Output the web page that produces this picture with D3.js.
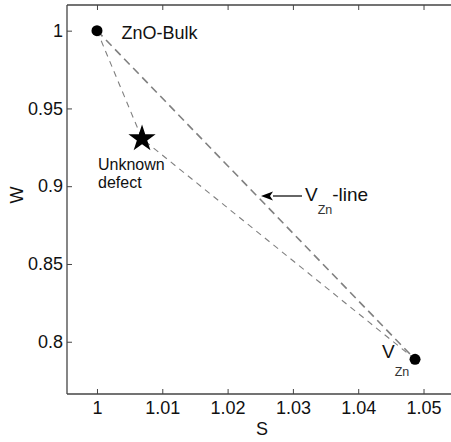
<!DOCTYPE html>
<html><head><meta charset="utf-8">
<script src="https://cdn.jsdelivr.net/npm/d3@7"></script>
<style>
body{margin:0;background:#fff;}
svg{display:block;font-family:Arial,"Liberation Sans",sans-serif;}
</style></head><body>
<svg id="c" width="451" height="442"></svg>
<script>
const xTicks=[1,1.01,1.02,1.03,1.04,1.05];
const yTicks=[0.8,0.85,0.9,0.95,1];
const pointNames=["ZnO-Bulk","Unknown defect","VZn"];
const pointS=[1,1.0069,1.0487];
const pointW=[1,0.9305,0.7887];
const lineA=[0,2];      // V_Zn line: bulk -> VZn
const lineB=[0,1,2];    // bulk -> unknown -> VZn

const svg=d3.select("#c");
const L=67,R=452,T=5,B=394;
const x=d3.scaleLinear().domain([0.99541,1.05436]).range([L,R]);
const y=d3.scaleLinear().domain([0.7664,1.0165]).range([B,T]);
const axCol="#444";
const FF="Arial,'Liberation Sans',sans-serif";

const gx=svg.append("g").attr("transform",`translate(0,${B})`)
  .call(d3.axisBottom(x).tickValues(xTicks).tickSize(-5).tickPadding(7.5).tickFormat(d3.format("~g")));
const gxt=svg.append("g").attr("transform",`translate(0,${T})`)
  .call(d3.axisTop(x).tickValues(xTicks).tickSize(-5).tickFormat(""));
const gy=svg.append("g").attr("transform",`translate(${L},0)`)
  .call(d3.axisLeft(y).tickValues(yTicks).tickSize(-5).tickPadding(4).tickFormat(d3.format("~g")));
[gx,gxt,gy].forEach(g=>{
  g.selectAll(".domain").attr("stroke",axCol).attr("stroke-width",1.3);
  g.selectAll(".tick line").attr("stroke",axCol).attr("stroke-width",1);
  g.selectAll("text").attr("fill","#111").style("font-size","18px").style("font-family",FF);
});
gx.selectAll(".domain").attr("d",`M${L},0H${R}`);
gxt.selectAll(".domain").attr("d",`M${L},0H${R}`);
gy.selectAll(".domain").attr("d",`M0,${T}V${B}`);

svg.append("text").attr("x",262).attr("y",435).attr("text-anchor","middle")
  .style("font-size","18px").attr("fill","#111").text("S");
svg.append("text").attr("transform","translate(23,195) rotate(-90)").attr("text-anchor","middle")
  .style("font-size","18px").attr("fill","#111").text("W");

const line=d3.line().x(i=>x(pointS[i])).y(i=>y(pointW[i]));
svg.append("path").attr("d",line(lineA)).attr("fill","none").attr("stroke","#808080")
  .attr("stroke-width",1.6).attr("stroke-dasharray","8,5");
svg.append("path").attr("d",line(lineB)).attr("fill","none").attr("stroke","#808080")
  .attr("stroke-width",1.1).attr("stroke-dasharray","6,5");

// markers
[0,2].forEach(i=>{
  svg.append("circle").attr("cx",x(pointS[i])).attr("cy",y(pointW[i])).attr("r",5.5).attr("fill","#000");
});
svg.append("path").attr("d",d3.symbol(d3.symbolStar,230)())
  .attr("transform",`translate(${x(pointS[1])},${y(pointW[1])})`).attr("fill","#000");

// labels
svg.append("text").attr("x",121.5).attr("y",39)
  .style("font-size","18px").attr("fill","#111").text("ZnO-Bulk");
const ud=svg.append("text").attr("x",98).attr("y",170)
  .style("font-size","16px").attr("fill","#111");
ud.append("tspan").text("Unknown");
ud.append("tspan").attr("x",98).attr("dy",18).text("defect");

const vz=svg.append("text").attr("x",382).attr("y",358)
  .style("font-size","19px").attr("fill","#111");
vz.append("tspan").text("V");
vz.append("tspan").attr("dy",18).style("font-size","12.5px").attr("fill","#333").text("Zn");

// arrow annotation
svg.append("defs").append("marker").attr("id","ah").attr("viewBox","0 0 12 10")
  .attr("refX",0).attr("refY",5).attr("markerUnits","userSpaceOnUse").attr("markerWidth",12).attr("markerHeight",10).attr("orient","auto")
  .append("path").attr("d","M0,5L12,0.5L9,5L12,9.5Z").attr("fill","#000");
svg.append("line").attr("x1",302).attr("y1",196).attr("x2",273).attr("y2",196)
  .attr("stroke","#000").attr("stroke-width",1.2).attr("marker-end","url(#ah)");
svg.selectAll("marker path").attr("transform","rotate(180,6,5)");
const vl=svg.append("text").attr("x",305).attr("y",200.5).style("font-size","19px").attr("fill","#111");
vl.append("tspan").text("V");
vl.append("tspan").attr("dy",13).style("font-size","12.5px").attr("fill","#333").text("Zn");
vl.append("tspan").attr("dy",-13).text("-line");
</script>
</body></html>
